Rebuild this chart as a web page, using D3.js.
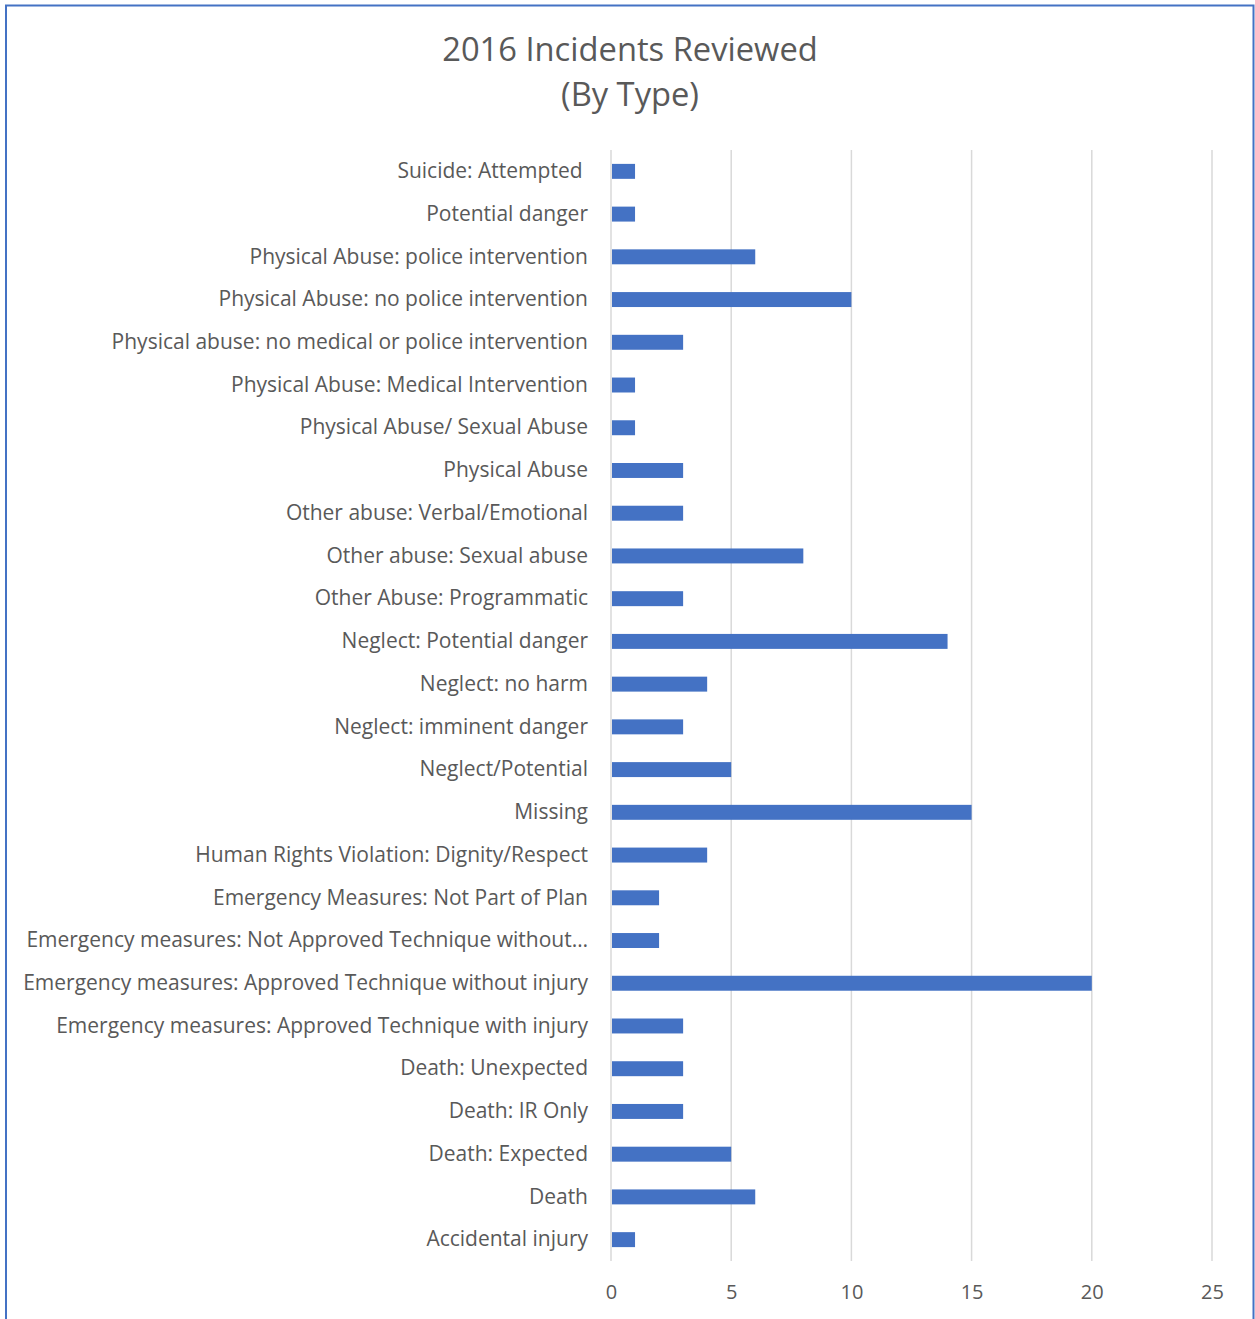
<!DOCTYPE html>
<html>
<head>
<meta charset="utf-8">
<script src="https://cdn.jsdelivr.net/npm/d3@7"></script>
<style>
  html, body { margin: 0; padding: 0; background: #fff; }
  svg text { font-family: "Open Sans", Lato, sans-serif; fill: #595959; }
</style>
</head>
<body>
<div id="chart-area"></div>
<script>
// incident categories, top to bottom as shown
const categories = [
  "Suicide: Attempted ",
  "Potential danger",
  "Physical Abuse: police intervention",
  "Physical Abuse: no police intervention",
  "Physical abuse: no medical or police intervention",
  "Physical Abuse: Medical Intervention",
  "Physical Abuse/ Sexual Abuse",
  "Physical Abuse",
  "Other abuse: Verbal/Emotional",
  "Other abuse: Sexual abuse",
  "Other Abuse: Programmatic",
  "Neglect: Potential danger",
  "Neglect: no harm",
  "Neglect: imminent danger",
  "Neglect/Potential",
  "Missing",
  "Human Rights Violation: Dignity/Respect",
  "Emergency Measures: Not Part of Plan",
  "Emergency measures: Not Approved Technique without…",
  "Emergency measures: Approved Technique without injury",
  "Emergency measures: Approved Technique with injury",
  "Death: Unexpected",
  "Death: IR Only",
  "Death: Expected",
  "Death",
  "Accidental injury"
];
const counts = [1, 1, 6, 10, 3, 1, 1, 3, 3, 8, 3, 14, 4, 3, 5, 15, 4, 2, 2, 20, 3, 3, 3, 5, 6, 1];
const xTicks = [0, 5, 10, 15, 20, 25];
const titleLines = ["2016 Incidents Reviewed", "(By Type)"];

const W = 1255, H = 1319;
const margin = { top: 150, right: 43, bottom: 58, left: 611 };
const width = W - margin.left - margin.right;
const height = H - margin.top - margin.bottom;

const svg = d3.select("#chart-area")
  .append("svg")
  .attr("width", W)
  .attr("height", H);

// outer frame
svg.append("path")
  .attr("d", `M6,${H} V5.5 H1253.5 V${H}`)
  .attr("fill", "none")
  .attr("stroke", "#4472c4")
  .attr("stroke-width", 2);

// title
svg.append("text")
  .attr("x", 630)
  .attr("y", 61)
  .attr("text-anchor", "middle")
  .style("font-size", "32.7px")
  .selectAll("tspan")
  .data(titleLines)
  .join("tspan")
  .attr("x", 630)
  .attr("dy", (d, i) => i === 0 ? 0 : 45)
  .text(d => d);

const g = svg.append("g")
  .attr("transform", `translate(${margin.left},${margin.top})`);

const xScale = d3.scaleLinear().domain([0, 25]).range([0, width]);
const yScale = d3.scaleBand().domain(categories).range([0, height]).paddingInner(0.65).paddingOuter(0.325);

// gridlines
g.selectAll(".grid")
  .data(xTicks)
  .join("line")
  .attr("class", "grid")
  .attr("x1", d => xScale(d))
  .attr("x2", d => xScale(d))
  .attr("y1", 0)
  .attr("y2", height)
  .attr("stroke", "#d9d9d9")
  .attr("stroke-width", 1.5);

// bars
g.selectAll(".bar")
  .data(categories)
  .join("rect")
  .attr("class", "bar")
  .attr("x", xScale(0) + 1)
  .attr("y", d => yScale(d))
  .attr("width", (d, i) => xScale(counts[i]) - xScale(0) - 1)
  .attr("height", yScale.bandwidth())
  .attr("fill", "#4472c4");

// x axis labels
const xAxis = d3.axisBottom(xScale).tickValues(xTicks).tickSize(0).tickPadding(24);
const xAxisGroup = g.append("g")
  .attr("transform", `translate(0,${height})`)
  .call(xAxis);
xAxisGroup.select(".domain").remove();
xAxisGroup.selectAll("text")
  .attr("fill", "#595959")
  .style("font-family", "\"Open Sans\", Lato, sans-serif")
  .style("font-size", "20px");

// y axis labels
const yAxis = d3.axisLeft(yScale).tickSize(0).tickPadding(23);
const yAxisGroup = g.append("g").call(yAxis);
yAxisGroup.select(".domain").remove();
yAxisGroup.selectAll("text")
  .attr("fill", "#595959")
  .style("white-space", "pre")
  .style("font-family", "\"Open Sans\", Lato, sans-serif")
  .style("font-size", "21px");
</script>
</body>
</html>
